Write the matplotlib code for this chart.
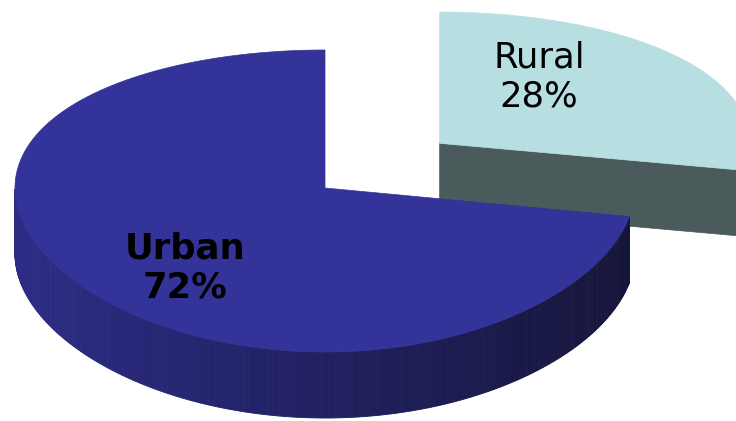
import numpy as np
import matplotlib
matplotlib.use("Agg")
import matplotlib.pyplot as plt
from matplotlib.patches import Polygon
from matplotlib.colors import to_rgb

# ---- data ----
labels = ["Urban", "Rural"]
shares = [72, 28]
explode = [0.0, 0.48]

# ---- style / layout ----
top_colors = ["#333399", "#b7dfe1"]
side_left = ["#2c2c86", "#4b5a5a"]
side_right = ["#15153a", "#4b5a5a"]
label_weights = ["bold", "normal"]
# projection of the pie plane (pixel space): x parallel, y with perspective
CX, A = 325.0, 310.0
Y0, C, K = 188.0, -133.7, 0.0861  # y = (Y0 + C*v) / (1 + K*v)
DEPTH = 66.0
START = 90.0  # Urban starts at 12 o'clock and runs counter-clockwise

fig = plt.figure(figsize=(7.36, 4.21), dpi=100)
ax = fig.add_axes([0, 0, 1, 1])
ax.set_xlim(0, 736)
ax.set_ylim(421, 0)
ax.axis("off")

total = float(sum(shares))
slices = []
t = START
for lab, s, ex in zip(labels, shares, explode):
    sweep = 360.0 * s / total
    slices.append((lab, s, ex, t, t + sweep))
    t += sweep


def proj(u, v):
    return CX + A * u, (Y0 + C * v) / (1.0 + K * v)


def rim(theta, ou, ov):
    r = np.radians(theta)
    return proj(ou + np.cos(r), ov + np.sin(r))


def mix(c1, c2, f):
    c1, c2 = np.array(to_rgb(c1)), np.array(to_rgb(c2))
    return tuple(c1 + (c2 - c1) * f)


def draw_slice(i, lab, s, ex, t1, t2):
    mid = np.radians((t1 + t2) / 2)
    ou, ov = ex * np.cos(mid), ex * np.sin(mid)
    vx, vy = proj(ou, ov)
    # radial faces
    for th, nrm in ((t1, t1 - 90), (t2, t2 + 90)):
        if np.sin(np.radians(nrm)) < -1e-6:
            x1, y1 = rim(th, ou, ov)
            poly = [(vx, vy), (x1, y1), (x1, y1 + DEPTH), (vx, vy + DEPTH)]
            ax.add_patch(Polygon(poly, closed=True, fc=side_left[i], ec=side_left[i], lw=0.5))
    # outer side wall, in strips for a gradient
    angs = np.linspace(t1, t2, 400)
    for a0, a1 in zip(angs[:-1], angs[1:]):
        am = (a0 + a1) / 2
        if np.sin(np.radians(am)) >= 0:
            continue
        xa, ya = rim(a0, ou, ov)
        xb, yb = rim(a1, ou, ov)
        f = np.clip((xa - (CX - A)) / (2 * A), 0, 1)
        col = mix(side_left[i], side_right[i], f)
        poly = [(xa, ya), (xb, yb), (xb, yb + DEPTH), (xa, ya + DEPTH)]
        ax.add_patch(Polygon(poly, closed=True, fc=col, ec=col, lw=0.6))
    # top face
    xs, ys = rim(angs, ou, ov)
    poly = [(vx, vy)] + list(zip(xs, ys))
    ax.add_patch(Polygon(poly, closed=True, fc=top_colors[i], ec=top_colors[i], lw=0.5))


# draw back (exploded) slice first, then the front one
order = sorted(range(len(slices)), key=lambda k: -slices[k][2])
for k in order:
    draw_slice(k, *slices[k])

# labels
label_pos = {"Urban": (185, 268), "Rural": (539, 77)}
for k, (lab, s, ex, t1, t2) in enumerate(slices):
    x, y = label_pos[lab]
    ax.text(x, y, f"{lab}\n{s}%", ha="center", va="center", fontsize=25.5,
            fontweight=label_weights[k], color="black", family="DejaVu Sans",
            linespacing=1.2)

fig.savefig("out.png", dpi=100)
